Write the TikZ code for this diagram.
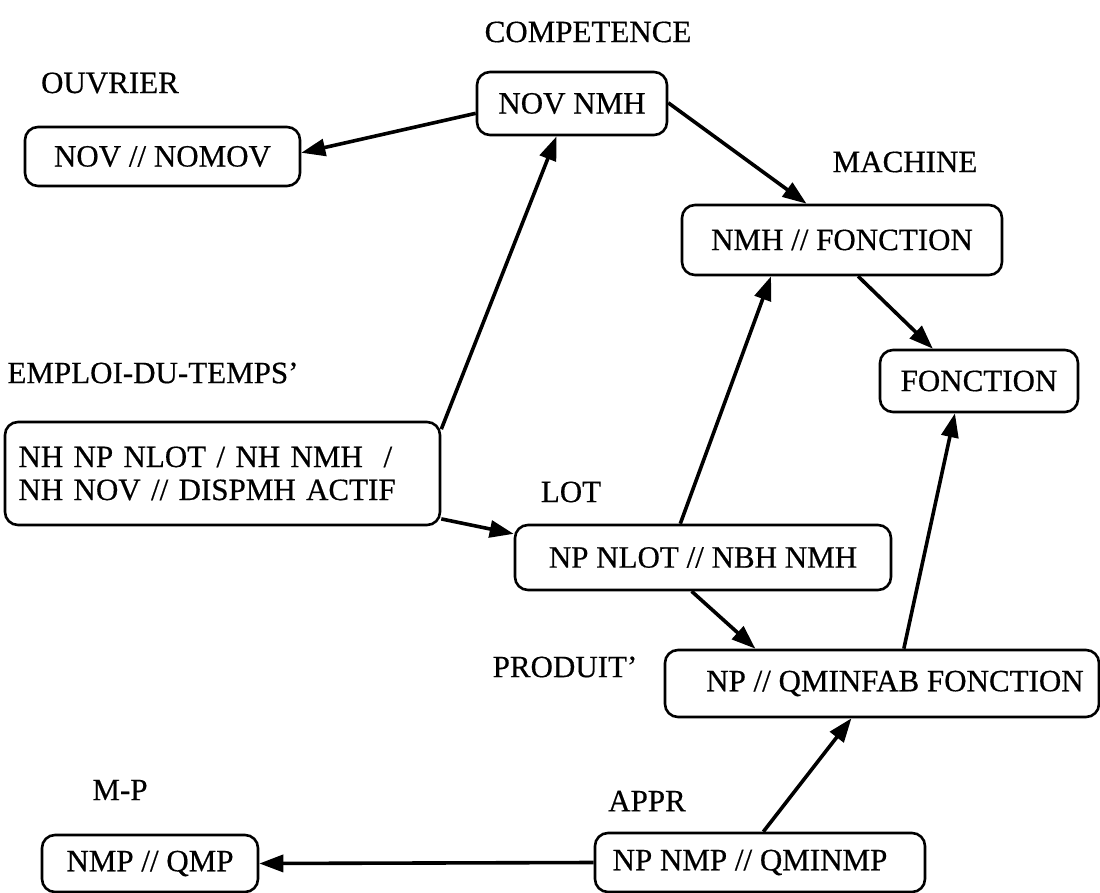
\documentclass[tikz,border=0pt]{standalone}
\usepackage{fontspec}
\setmainfont{Liberation Serif}[FakeBold=0.5]
\usetikzlibrary{arrows.meta,calc}

\begin{document}
\begin{tikzpicture}[x=1pt,y=-1pt,
  box/.style={draw,line width=2.6pt,rounded corners=13pt,inner sep=0pt,
    font=\fontsize{31}{33}\selectfont},
  lbl/.style={inner sep=0pt,font=\fontsize{31}{33}\selectfont},
  link/.style={line width=3.6pt,-{Triangle[length=24pt,width=17pt]}}]
\useasboundingbox (0,0) rectangle (1100,893);

% relations (schema boxes)
\node[box,minimum width=190pt,minimum height=63pt] (comp) at (572,103.5) {NOV NMH};
\node[box,minimum width=275pt,minimum height=59pt] (ouv)  at (162.5,156.5) {NOV // NOMOV};
\node[box,minimum width=320pt,minimum height=70pt] (mach) at (842,240) {NMH // FONCTION};
\node[box,minimum width=198pt,minimum height=62pt] (fonc) at (979,381) {FONCTION};
\node[box,minimum width=435pt,minimum height=103pt,text width=408pt,align=left] (emp) at (222.5,473.5)
  {NH NP NLOT / NH NMH~~/\\NH NOV // DISPMH ACTIF};
\node[box,minimum width=376pt,minimum height=65pt] (lot)  at (703,557.5) {NP NLOT // NBH NMH};
\node[box,minimum width=434pt,minimum height=67pt] (prod) at (882,683.5) {\hspace*{26pt}NP // QMINFAB FONCTION};
\node[box,minimum width=216pt,minimum height=57pt] (mp)   at (150,863.5) {NMP // QMP};
\node[box,minimum width=330pt,minimum height=59pt] (appr) at (760,862.5) {NP NMP // QMINMP\hspace*{20pt}};

% relation names
\node[lbl] (tcomp) at (588,32)  {COMPETENCE};
\node[lbl] (touv)  at (110,83)  {OUVRIER};
\node[lbl] (tmach) at (905,162) {MACHINE};
\node[lbl] (temp)  at (153,373) {EMPLOI-DU-TEMPS'};
\node[lbl] (tlot)  at (571,492) {LOT};
\node[lbl] (tprod) at (565,667) {PRODUIT'};
\node[lbl] (tmp)   at (120,790) {M-P};
\node[lbl] (tappr) at (647,801) {APPR};

% links between relations
\draw[link] ($(comp.north west)!0.65!(comp.south west)$) -- ($(ouv.north east)!0.44!(ouv.south east)$);
\draw[link] ($(comp.north east)!0.49!(comp.south east)$) -- ($(mach.north west)!0.39!(mach.north east)$);
\draw[link] ($(mach.south west)!0.55!(mach.south east)$) -- ($(fonc.north west)!0.27!(fonc.north east)$);
\draw[link] ($(emp.north east)!0.08!(emp.south east)$) -- ($(comp.south west)!0.42!(comp.south east)$);
\draw[link] ($(emp.north east)!0.93!(emp.south east)$) -- ($(lot.north west)!0.15!(lot.south west)$);
\draw[link] ($(lot.north west)!0.44!(lot.north east)$) -- ($(mach.south west)!0.28!(mach.south east)$);
\draw[link] ($(lot.south west)!0.47!(lot.south east)$) -- ($(prod.north west)!0.21!(prod.north east)$);
\draw[link] ($(prod.north west)!0.55!(prod.north east)$) -- ($(fonc.south west)!0.38!(fonc.south east)$);
\draw[link] ($(appr.north west)!0.51!(appr.north east)$) -- ($(prod.south west)!0.43!(prod.south east)$);
\draw[link] (appr.west) -- (mp.east);
\end{tikzpicture}
\end{document}
